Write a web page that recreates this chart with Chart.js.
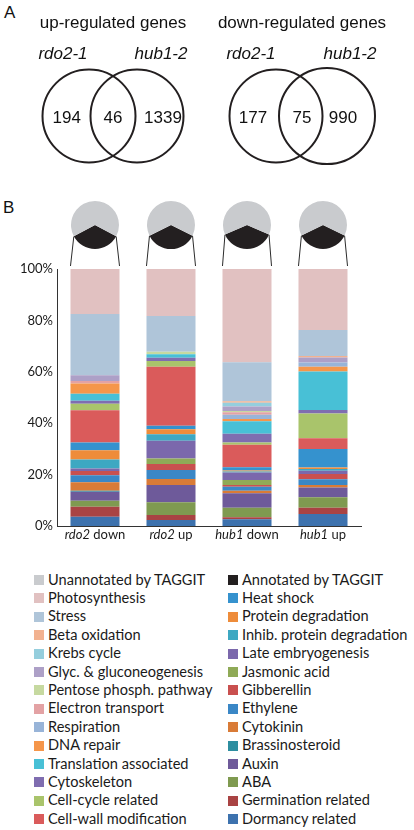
<!DOCTYPE html>
<html>
<head>
<meta charset="utf-8">
<script src="https://cdn.jsdelivr.net/npm/chart.js@4.4.1/dist/chart.umd.min.js"></script>
<style>
  html,body{margin:0;padding:0;background:#fff;}
  body{width:414px;height:830px;position:relative;overflow:hidden;}
  canvas{position:absolute;}
  .panel{position:absolute;font-family:"Liberation Sans",Arial,sans-serif;font-size:17px;color:#111;}
  .lg{position:absolute;font-family:Lato,"Open Sans",sans-serif;font-size:14.6px;color:#1a1a1a;white-space:nowrap;line-height:18px;}
  .sw{position:absolute;width:10px;height:10px;}
</style>
</head>
<body>
<div class="panel" style="left:4px;top:3px;">A</div>
<div class="panel" style="left:3px;top:198px;">B</div>
<canvas id="venn" width="414" height="180" style="left:0;top:0;width:414px;height:180px;"></canvas>
<canvas id="bars" width="414" height="320" style="left:0;top:230px;width:414px;height:320px;"></canvas>
<div id="legend"></div>
<script>
// ---------------- DATA ----------------
// Venn diagrams (panel A)
const vennTitles = ['up-regulated genes', 'down-regulated genes'];
const vennSetNames = ['rdo2-1', 'hub1-2'];
const vennUpCounts = [194, 46, 1339];     // rdo2-1 only, shared, hub1-2 only
const vennDownCounts = [177, 75, 990];

// Bars (panel B)
const barGenotypes = ['rdo2', 'rdo2', 'hub1', 'hub1'];
const barDirections = ['down', 'up', 'down', 'up'];
const yTickValues = [0, 20, 40, 60, 80, 100];

// Share of genes annotated by TAGGIT (pie charts), %
const annotatedShare = [34.4, 35.4, 37.0, 35.6];
const pieLabels = ['Annotated by TAGGIT', 'Unannotated by TAGGIT'];

// Functional categories, stacking order bottom -> top
const categoryNames = [
  'Dormancy related', 'Germination related', 'ABA', 'Auxin', 'Brassinosteroid',
  'Cytokinin', 'Ethylene', 'Gibberellin', 'Jasmonic acid', 'Late embryogenesis',
  'Inhib. protein degradation', 'Protein degradation', 'Heat shock',
  'Cell-wall modification', 'Cell-cycle related', 'Cytoskeleton',
  'Translation associated', 'DNA repair', 'Respiration', 'Electron transport',
  'Pentose phosph. pathway', 'Glyc. & gluconeogenesis', 'Krebs cycle',
  'Beta oxidation', 'Stress', 'Photosynthesis'
];
const categoryColors = [
  '#3D72AE', '#A94343', '#7F9A50', '#6E5A9A', '#2D8EA0',
  '#D97B37', '#3A87C6', '#C9504F', '#8FAA57', '#7B68AC',
  '#3DA8C2', '#EE8C3A', '#3592CE',
  '#DA5B5B', '#A9C46B', '#7F6DB0',
  '#48C0D6', '#F5964A', '#98B4D8', '#E3A2A4',
  '#C6D9A0', '#ADA0C7', '#95CEDD',
  '#F2B290', '#AFC5D9', '#E1C1C1'
];
// percentages per bar, same order as categoryNames
const rdo2Down = [3.6, 3.9, 2.3, 3.5, 0.4, 3.3, 2.7, 1.7, 0, 1.0, 3.5, 3.6, 3.0, 12.5, 2.6, 1.1, 2.8, 3.9, 0, 1.0, 0, 2.3, 0, 0, 23.8, 17.5];
const rdo2Up   = [2.3, 2.0, 4.9, 6.8, 0, 2.3, 3.5, 2.3, 2.2, 6.9, 2.5, 1.9, 1.4, 23.0, 2.2, 1.3, 1.3, 0, 0, 0, 1.0, 0, 0, 0, 13.9, 18.3];
const hub1Down = [2.6, 0.8, 3.7, 5.6, 0, 1.0, 1.6, 0.7, 1.9, 2.9, 0.4, 0.4, 1.3, 8.7, 0.9, 3.4, 4.9, 0.8, 1.7, 1.0, 0.4, 1.8, 1.5, 0.5, 15.2, 36.3];
const hub1Up   = [4.7, 2.4, 4.1, 3.8, 0, 1.0, 2.2, 2.0, 0, 1.3, 0.7, 0.6, 7.2, 4.1, 9.7, 1.3, 15.0, 1.9, 1.6, 0, 0, 2.0, 0, 0.5, 10.2, 23.7];

// Legend columns (category names)
const legendLeft = ['Unannotated by TAGGIT', 'Photosynthesis', 'Stress', 'Beta oxidation', 'Krebs cycle',
  'Glyc. & gluconeogenesis', 'Pentose phosph. pathway', 'Electron transport', 'Respiration', 'DNA repair',
  'Translation associated', 'Cytoskeleton', 'Cell-cycle related', 'Cell-wall modification'];
const legendRight = ['Annotated by TAGGIT', 'Heat shock', 'Protein degradation', 'Inhib. protein degradation',
  'Late embryogenesis', 'Jasmonic acid', 'Gibberellin', 'Ethylene', 'Cytokinin', 'Brassinosteroid',
  'Auxin', 'ABA', 'Germination related', 'Dormancy related'];
const pieColors = ['#231F20', '#C9CBCE'];

// ---------------- PANEL A: Venn diagrams ----------------
const ARIAL = '"Liberation Sans", Arial, sans-serif';
const vennLayout = [
  {circles: [[89, 116, 46.5], [137, 116, 46.5]], counts: vennUpCounts, countX: [66.7, 113, 163], titleX: 113, nameX: [63, 161]},
  {circles: [[276, 116, 46.5], [327, 116, 48]], counts: vennDownCounts, countX: [253, 302, 343], titleX: 302, nameX: [251, 350]}
];
const vennDatasets = vennLayout.map((v, k) => ({
  label: vennTitles[k],
  data: v.circles.map(c => ({x: c[0], y: c[1], r: c[2]})),
  backgroundColor: 'rgba(0,0,0,0)',
  borderColor: '#231F20',
  borderWidth: 2,
  hoverBorderWidth: 2,
  clip: false
}));
const vennText = {
  id: 'vennText',
  afterDatasetsDraw(chart) {
    const ctx = chart.ctx, xs = chart.scales.x, ys = chart.scales.y;
    ctx.save();
    ctx.fillStyle = '#111';
    ctx.textAlign = 'center';
    ctx.textBaseline = 'middle';
    vennLayout.forEach((v, k) => {
      ctx.font = '17px ' + ARIAL;
      ctx.fillText(vennTitles[k], xs.getPixelForValue(v.titleX), ys.getPixelForValue(23));
      ctx.font = 'italic 17px ' + ARIAL;
      vennSetNames.forEach((n, j) => ctx.fillText(n, xs.getPixelForValue(v.nameX[j]), ys.getPixelForValue(54)));
      ctx.font = '17px ' + ARIAL;
      v.countX.forEach((px, j) =>
        ctx.fillText(String(v.counts[j]), xs.getPixelForValue(px), ys.getPixelForValue(118)));
    });
    ctx.restore();
  }
};
new Chart(document.getElementById('venn'), {
  type: 'bubble',
  data: {datasets: vennDatasets},
  options: {
    responsive: false, animation: false, events: [],
    layout: {padding: 0, autoPadding: false},
    plugins: {legend: {display: false}, tooltip: {enabled: false}},
    scales: {
      x: {type: 'linear', min: 0, max: 414, display: false},
      y: {type: 'linear', min: 0, max: 180, reverse: true, display: false}
    }
  },
  plugins: [vennText]
});

// ---------------- PANEL B: stacked bars ----------------
const FONT_B = 'Lato, "Open Sans", sans-serif';
const barSeries = [rdo2Down, rdo2Up, hub1Down, hub1Up];
const barDatasets = categoryNames.map((name, i) => ({
  label: name,
  data: barSeries.map(s => s[i]),
  backgroundColor: categoryColors[i],
  borderWidth: 0,
  barPercentage: 0.645,
  categoryPercentage: 1.0
}));
const BAR_TOP = 230;       // canvas top on page
const PIE_CY = 225.2;      // pie centre on page
const PIE_R = 24;

const connectors = {
  id: 'connectors',
  afterDraw(chart) {
    const ctx = chart.ctx, meta = chart.getDatasetMeta(0), top = chart.chartArea.top - 3;
    ctx.save();
    ctx.strokeStyle = '#2b2b2b';
    ctx.lineWidth = 1;
    meta.data.forEach((bar, i) => {
      const f = annotatedShare[i] / 100;
      const cy = PIE_CY - BAR_TOP;
      const aL = Math.PI / 2 + Math.PI * f, aR = Math.PI / 2 - Math.PI * f;
      const half = bar.width / 2;
      ctx.beginPath();
      ctx.moveTo(bar.x + PIE_R * Math.cos(aL), cy + PIE_R * Math.sin(aL));
      ctx.lineTo(bar.x - half, top);
      ctx.moveTo(bar.x + PIE_R * Math.cos(aR), cy + PIE_R * Math.sin(aR));
      ctx.lineTo(bar.x + half, top);
      ctx.stroke();
    });
    ctx.restore();
  }
};
const xLabels = {
  id: 'xLabels',
  afterDraw(chart) {
    const ctx = chart.ctx, xs = chart.scales.x;
    const y = chart.chartArea.bottom + 9;
    ctx.save();
    ctx.fillStyle = '#1a1a1a';
    ctx.textBaseline = 'middle';
    ctx.textAlign = 'left';
    barGenotypes.forEach((g, i) => {
      const cx = xs.getPixelForTick(i);
      ctx.font = 'italic 13px ' + FONT_B;
      const w1 = ctx.measureText(g).width;
      ctx.font = '13px ' + FONT_B;
      const rest = ' ' + barDirections[i];
      const w2 = ctx.measureText(rest).width;
      const x0 = cx - (w1 + w2) / 2;
      ctx.font = 'italic 13px ' + FONT_B;
      ctx.fillText(g, x0, y);
      ctx.font = '13px ' + FONT_B;
      ctx.fillText(rest, x0 + w1, y);
    });
    ctx.restore();
  }
};
const barChart = new Chart(document.getElementById('bars'), {
  type: 'bar',
  data: {labels: barGenotypes.map((g, i) => g + ' ' + barDirections[i]), datasets: barDatasets},
  options: {
    responsive: false, animation: false, events: [],
    layout: {padding: {top: 39, right: 53, left: 0, bottom: 0}},
    plugins: {legend: {display: false}, tooltip: {enabled: false}},
    scales: {
      x: {
        stacked: true,
        grid: {display: false},
        border: {display: true, color: '#333', width: 1},
        ticks: {display: false},
        afterFit(s) { s.height = 24; }
      },
      y: {
        stacked: true, min: 0, max: 100,
        afterBuildTicks(s) { s.ticks = yTickValues.map(v => ({value: v})); },
        grid: {display: false, drawTicks: false},
        border: {display: true, color: '#333', width: 1},
        ticks: {padding: 4, color: '#1a1a1a', font: {family: FONT_B, size: 13}, callback: v => v + '%'},
        afterFit(s) { s.width = 57; }
      }
    }
  },
  plugins: [connectors, xLabels]
});

// ---------------- Pies above each bar ----------------
const barMeta = barChart.getDatasetMeta(0);
barMeta.data.forEach((bar, i) => {
  const cv = document.createElement('canvas');
  cv.width = 50; cv.height = 50;
  cv.style.left = (bar.x - 25) + 'px';
  cv.style.top = (PIE_CY - 25) + 'px';
  cv.style.width = '50px'; cv.style.height = '50px';
  document.body.appendChild(cv);
  const f = annotatedShare[i];
  new Chart(cv, {
    type: 'pie',
    data: {labels: pieLabels, datasets: [{data: [f, 100 - f], backgroundColor: pieColors, borderWidth: 0}]},
    options: {
      responsive: false, animation: false, events: [],
      rotation: 180 - 1.8 * f,
      layout: {padding: 1},
      plugins: {legend: {display: false}, tooltip: {enabled: false}}
    }
  });
});

// ---------------- Legend ----------------
const colorOf = name => {
  const k = categoryNames.indexOf(name);
  if (k >= 0) return categoryColors[k];
  return name === pieLabels[0] ? pieColors[0] : pieColors[1];
};
const lg = document.getElementById('legend');
const ROW0 = 580, ROWH = 18.4;
[[legendLeft, 34, 48], [legendRight, 228, 242]].forEach(([items, sx, tx]) => {
  items.forEach((name, r) => {
    const cy = ROW0 + r * ROWH;
    const sw = document.createElement('div');
    sw.className = 'sw';
    sw.style.left = sx + 'px'; sw.style.top = (cy - 5) + 'px';
    sw.style.background = colorOf(name);
    lg.appendChild(sw);
    const t = document.createElement('div');
    t.className = 'lg';
    t.style.left = tx + 'px'; t.style.top = (cy - 9.5) + 'px';
    t.textContent = name;
    lg.appendChild(t);
  });
});
</script>
</body>
</html>
